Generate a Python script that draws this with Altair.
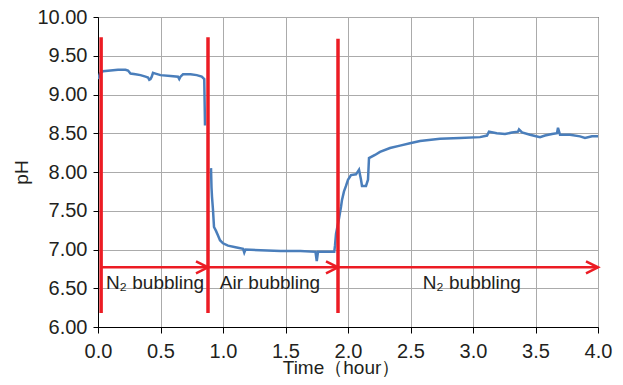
import altair as alt
import pandas as pd

# Blue pH trace (segment 1 before air switch, segment 2 after)
time_h = [0.0, 0.016, 0.04, 0.10, 0.16, 0.22, 0.24, 0.26, 0.30, 0.34, 0.38, 0.40, 0.41, 0.42, 0.43, 0.44,
          0.46, 0.50, 0.58, 0.64, 0.65, 0.66, 0.68, 0.74, 0.79, 0.83, 0.85, 0.852, 0.856,
          0.904, 0.908, 0.912, 0.92, 0.928, 0.944, 0.96, 0.976, 1.0, 1.04, 1.10, 1.16, 1.17, 1.18,
          1.30, 1.46, 1.62, 1.74, 1.75, 1.76, 1.89, 1.896, 1.904, 1.928, 1.944, 1.952, 1.968, 1.984,
          2.0, 2.024, 2.064, 2.088, 2.104, 2.112, 2.144, 2.16, 2.168, 2.216, 2.256, 2.336, 2.416,
          2.496, 2.576, 2.736, 2.896, 3.056, 3.112, 3.128, 3.16, 3.19, 3.256, 3.312, 3.36, 3.368,
          3.392, 3.456, 3.536, 3.576, 3.632, 3.672, 3.68, 3.696, 3.776, 3.856, 3.896, 3.952, 4.0]
ph = [9.20, 9.27, 9.30, 9.31, 9.32, 9.32, 9.31, 9.27, 9.26, 9.25, 9.23, 9.22, 9.19, 9.20, 9.23, 9.28,
      9.27, 9.25, 9.24, 9.23, 9.20, 9.23, 9.26, 9.26, 9.25, 9.23, 9.20, 9.00, 8.60,
      8.05, 7.80, 7.68, 7.51, 7.29, 7.24, 7.18, 7.12, 7.08, 7.05, 7.03, 7.01, 6.96, 7.00,
      6.99, 6.98, 6.98, 6.97, 6.85, 6.97, 6.97, 7.05, 7.20, 7.40, 7.55, 7.64, 7.75, 7.82,
      7.90, 7.96, 7.97, 8.03, 7.90, 7.82, 7.82, 7.90, 8.18, 8.22, 8.26, 8.31, 8.34,
      8.37, 8.40, 8.43, 8.44, 8.45, 8.47, 8.52, 8.51, 8.50, 8.49, 8.51, 8.52, 8.55,
      8.51, 8.48, 8.45, 8.47, 8.49, 8.50, 8.57, 8.48, 8.48, 8.46, 8.44, 8.46, 8.46]
segment_break_time = 0.88

# Red markers
switch_times = [0.025, 0.88, 1.92]
switch_top = [9.74, 9.74, 9.72]
switch_bottom = [6.18, 6.18, 6.18]
arrow_start = [0.025, 0.88, 1.92]
arrow_end = [0.88, 1.92, 4.0]
arrow_ph = [6.77, 6.77, 6.77]
phase_labels = ["N\u2082 bubbling", "Air bubbling", "N\u2082 bubbling"]
label_time = [0.456, 1.376, 2.99]
label_ph = [6.57, 6.57, 6.57]

x_ticks = [0.0, 0.5, 1.0, 1.5, 2.0, 2.5, 3.0, 3.5, 4.0]
y_ticks = [6.0, 6.5, 7.0, 7.5, 8.0, 8.5, 9.0, 9.5, 10.0]

RED = "#ec1c24"
BLUE = "#4a7ebb"
FONT = "Liberation Sans"
TXT = "#231f20"

df = pd.DataFrame({"t": time_h, "ph": ph})
df["seg"] = (df["t"] > segment_break_time).astype(int)
vlines = pd.DataFrame({"t": switch_times, "top": switch_top, "bottom": switch_bottom})
arrows = pd.DataFrame({"t0": arrow_start, "t1": arrow_end, "y": arrow_ph})
labels = pd.DataFrame({"t": label_time, "y": label_ph, "text": phase_labels})

xs = alt.Scale(domain=[0, 4], nice=False, zero=False)
ys = alt.Scale(domain=[6, 10], nice=False, zero=False)

common = dict(grid=True, labelFontSize=20, titleFontSize=19, labelFont=FONT, titleFont=FONT,
              titleFontWeight="normal", labelColor=TXT, titleColor=TXT, domainColor="black",
              tickColor="black", gridColor="#ababab", labelFlush=False, labelOverlap=False)
xaxis = alt.Axis(values=x_ticks, format=".1f", title="Time\uff08hour\uff09",
                 tickSize=6, labelPadding=8, titleBaseline="alphabetic", titleY=46,
                 titleX=243, **common)
yaxis = alt.Axis(values=y_ticks, format=".2f", title="pH",
                 tickSize=5, labelPadding=6, titlePadding=5, **common)


def X(field):
    return alt.X(field, type="quantitative", scale=xs, axis=xaxis, title="Time\uff08hour\uff09")


def Y(field):
    return alt.Y(field, type="quantitative", scale=ys, axis=yaxis, title="pH")


line = alt.Chart(df).mark_line(color=BLUE, strokeWidth=2.5, clip=True).encode(
    x=X("t"), y=Y("ph"), detail="seg:N",
)

red_v = alt.Chart(vlines).mark_rule(color=RED, strokeWidth=3.5).encode(
    x=X("t"), y=Y("top"), y2="bottom:Q"
)

red_h = alt.Chart(arrows).mark_rule(color=RED, strokeWidth=2.5).encode(
    x=X("t0"), x2="t1:Q", y=Y("y")
)

heads = alt.Chart(arrows).mark_point(
    shape="M-1,-0.5L0,0L-1,0.5", size=576, filled=False, stroke=RED, strokeWidth=2.5, opacity=1
).encode(x=X("t1"), y=Y("y"))

text = alt.Chart(labels).mark_text(fontSize=19, font=FONT, color=TXT, baseline="middle").encode(
    x=X("t"), y=Y("y"), text="text:N"
)

chart = alt.layer(line, red_v, red_h, heads, text).properties(
    width=500, height=310,
    autosize=alt.AutoSizeParams(type="none"),
    padding={"left": 90, "top": 9, "right": 15, "bottom": 50},
).configure_view(stroke="black", strokeWidth=1)

chart.save("out.html", embed_options={"renderer": "svg", "actions": False})
